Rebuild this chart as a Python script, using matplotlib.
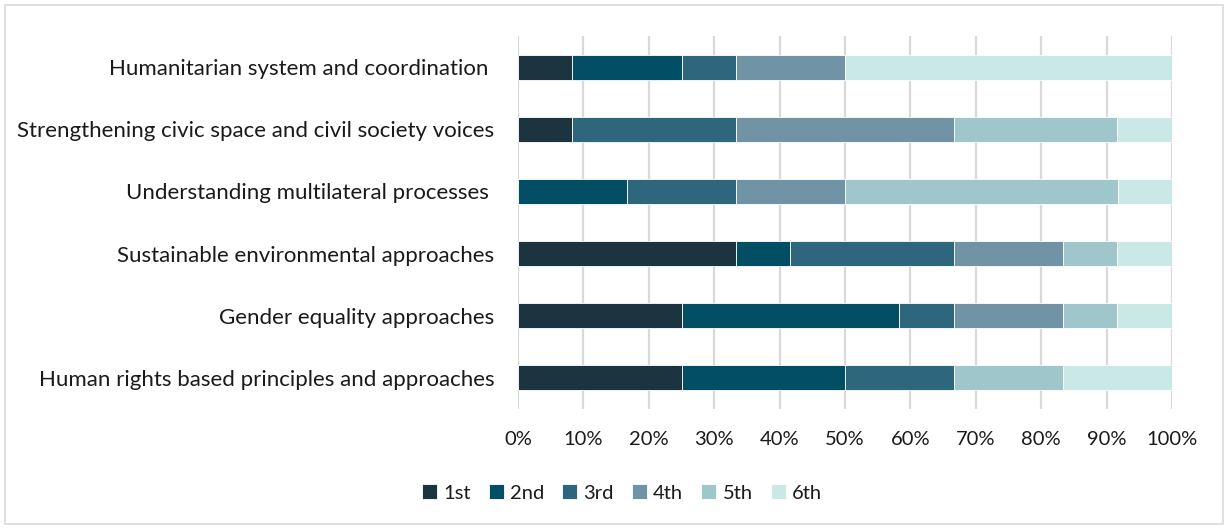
import matplotlib
matplotlib.use("Agg")
import matplotlib.pyplot as plt
from matplotlib.patches import Rectangle
import numpy as np

plt.rcParams["font.family"] = ["Lato", "DejaVu Sans"]

categories = [
    "Humanitarian system and coordination ",
    "Strengthening civic space and civil society voices",
    "Understanding multilateral processes ",
    "Sustainable environmental approaches",
    "Gender equality approaches",
    "Human rights based principles and approaches",
]
ranks = ["1st", "2nd", "3rd", "4th", "5th", "6th"]

# share (%) of respondents per rank, one list per rank, in category order
first = [8.33, 8.33, 0.0, 33.33, 25.0, 25.0]
second = [16.67, 0.0, 16.67, 8.33, 33.33, 25.0]
third = [8.33, 25.0, 16.67, 25.0, 8.33, 16.67]
fourth = [16.67, 33.33, 16.67, 16.67, 16.67, 0.0]
fifth = [0.0, 25.0, 41.67, 8.33, 8.33, 16.67]
sixth = [50.0, 8.33, 8.33, 8.33, 8.33, 16.67]

series = [first, second, third, fourth, fifth, sixth]
colors = ["#1b3440", "#024e65", "#2e667d", "#7193a6", "#9ec6cb", "#c9e8e6"]

fig = plt.figure(figsize=(12.29, 5.29), dpi=100)
ax = fig.add_axes([518 / 1229, 1 - 409 / 529, (1172 - 518) / 1229, (409 - 36) / 529])

y = np.arange(len(categories))
left = np.zeros(len(categories))
for name, vals, col in zip(ranks, series, colors):
    vals = np.array(vals)
    ax.barh(y, vals, left=left, height=0.4, color=col, label=name,
            edgecolor="white", linewidth=0.6, zorder=3)
    left += vals

ax.set_xlim(0, 100)
ax.set_ylim(len(categories) - 0.5, -0.5)
ax.set_yticks(y)
ax.set_yticklabels(categories, fontsize=16, color="#1a1a1a")
ax.set_xticks(np.arange(0, 101, 10))
ax.set_xticklabels([f"{v}%" for v in range(0, 101, 10)], fontsize=14.5, color="#1a1a1a")
ax.tick_params(length=0)
ax.tick_params(axis="y", pad=17)
ax.tick_params(axis="x", pad=16)
ax.grid(axis="x", color="#d9d9d9", linewidth=1.6, zorder=0)
for s in ax.spines.values():
    s.set_visible(False)

leg = fig.legend(loc="center", bbox_to_anchor=(622 / 1229, 1 - 493 / 529), ncol=6,
                 frameon=False, fontsize=14.5, handlelength=0.75, handleheight=0.75,
                 handletextpad=0.3, columnspacing=0.9)
for t in leg.get_texts():
    t.set_color("#1a1a1a")

fig.patches.append(Rectangle((5 / 1229, 5 / 529), 1218 / 1229, 519 / 529,
                             transform=fig.transFigure, fill=False,
                             edgecolor="#d9d9d9", linewidth=1.2))

fig.savefig("out.png", dpi=100, facecolor="white")
